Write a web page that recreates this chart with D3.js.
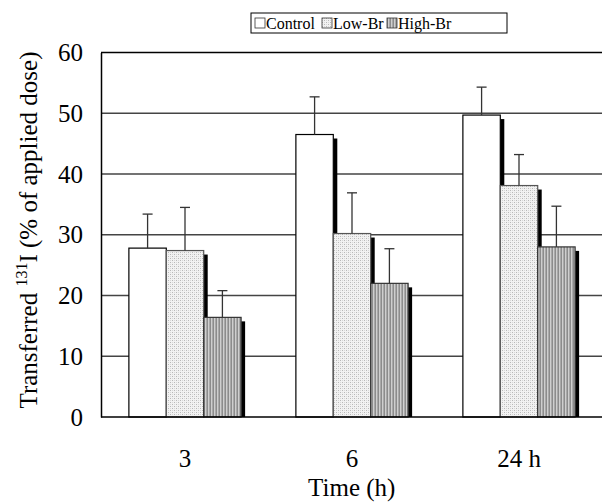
<!DOCTYPE html>
<html>
<head>
<meta charset="utf-8">
<script src="https://cdn.jsdelivr.net/npm/d3@7"></script>
<style>
  body { margin: 0; background: #fff; }
  text { font-family: "Liberation Serif", "Times New Roman", serif; fill: #000; }
</style>
</head>
<body>
<svg width="602" height="502"></svg>
<script>
// Data
var groups = ["3", "6", "24 h"];
var series = ["Control", "Low-Br", "High-Br"];
var control = [27.8, 46.5, 49.7];
var controlErr = [5.6, 6.2, 4.6];
var lowBr = [27.4, 30.2, 38.1];
var lowBrErr = [7.1, 6.7, 5.1];
var highBr = [16.4, 22.0, 28.0];
var highBrErr = [4.4, 5.7, 6.7];
var yTicks = [0, 10, 20, 30, 40, 50, 60];

var values = [control, lowBr, highBr];
var errors = [controlErr, lowBrErr, highBrErr];
var fills = ["#fff", "url(#dots)", "url(#stripes)"];
var strokes = ["#000", "#555", "#333"];

var svg = d3.select("svg");
var plotLeft = 101, plotRight = 602.5, plotTop = 52.5, plotBottom = 417;

// patterns for the Low-Br and High-Br bars
var defs = svg.append("defs");
var dots = defs.append("pattern").attr("id", "dots")
    .attr("patternUnits", "userSpaceOnUse").attr("width", 4).attr("height", 4);
dots.append("rect").attr("width", 4).attr("height", 4).attr("fill", "#f2f2f2");
dots.append("rect").attr("x", 0).attr("y", 0).attr("width", 1).attr("height", 1).attr("fill", "#b8b8b8");
dots.append("rect").attr("x", 2).attr("y", 2).attr("width", 1).attr("height", 1).attr("fill", "#b8b8b8");
dots.append("rect").attr("x", 0).attr("y", 2).attr("width", 1).attr("height", 1).attr("fill", "#d8d8d8");
dots.append("rect").attr("x", 2).attr("y", 0).attr("width", 1).attr("height", 1).attr("fill", "#d8d8d8");

var stripes = defs.append("pattern").attr("id", "stripes")
    .attr("patternUnits", "userSpaceOnUse").attr("width", 3).attr("height", 3);
stripes.append("rect").attr("x", 0).attr("width", 1).attr("height", 3).attr("fill", "#8c8c8c");
stripes.append("rect").attr("x", 1).attr("width", 1).attr("height", 3).attr("fill", "#cfcfcf");
stripes.append("rect").attr("x", 2).attr("width", 1).attr("height", 3).attr("fill", "#a9a9a9");

// Scales
var x0 = d3.scaleBand().domain(groups).range([plotLeft + 0.5, plotRight]).paddingInner(0.328).paddingOuter(0.164);
var x1 = d3.scaleBand().domain(series).range([0, x0.bandwidth()]);
var y = d3.scaleLinear().domain([0, 60]).range([plotBottom, plotTop]);

// Grid lines
svg.append("g").selectAll("line").data(yTicks.filter(function (d) { return d > 0 && d < 60; }))
    .enter().append("line")
    .attr("x1", plotLeft).attr("x2", plotRight)
    .attr("y1", function (d) { return y(d); }).attr("y2", function (d) { return y(d); })
    .attr("stroke", "#444").attr("stroke-width", 1.3);

// top border
svg.append("line").attr("x1", plotLeft).attr("x2", plotRight).attr("y1", y(60)).attr("y2", y(60))
    .attr("stroke", "#000").attr("stroke-width", 1.3);

// Bars: shadow then bar, series by series so the next bar covers the shadow
var bars = svg.append("g");
groups.forEach(function (g, gi) {
    series.forEach(function (s, si) {
        var v = values[si][gi];
        var bx = x0(g) + x1(s);
        var w = x1.bandwidth();
        bars.append("rect")
            .attr("x", bx + w).attr("y", y(v) + 4)
            .attr("width", 4).attr("height", plotBottom - y(v) - 4)
            .attr("fill", "#000");
        bars.append("rect")
            .attr("x", bx).attr("y", y(v))
            .attr("width", w).attr("height", plotBottom - y(v))
            .attr("fill", fills[si]).attr("stroke", strokes[si]).attr("stroke-width", 1.2);
    });
});

// Error bars (upper only)
var err = svg.append("g").attr("stroke", "#333").attr("stroke-width", 1.3);
groups.forEach(function (g, gi) {
    series.forEach(function (s, si) {
        var v = values[si][gi], e = errors[si][gi];
        var cx = x0(g) + x1(s) + x1.bandwidth() / 2;
        err.append("line").attr("x1", cx).attr("x2", cx).attr("y1", y(v)).attr("y2", y(v + e));
        err.append("line").attr("x1", cx - 5).attr("x2", cx + 5).attr("y1", y(v + e)).attr("y2", y(v + e));
    });
});

// Axes
var yAxis = svg.append("g").attr("transform", "translate(" + plotLeft + ",0)")
    .call(d3.axisLeft(y).tickValues(yTicks).tickSize(0).tickPadding(18))
    .attr("font-family", "Liberation Serif").attr("font-size", 25);
yAxis.select(".domain").attr("stroke", "#000").attr("stroke-width", 1.5);

var xAxis = svg.append("g").attr("transform", "translate(0," + plotBottom + ")")
    .call(d3.axisBottom(x0).tickSize(0).tickPadding(32))
    .attr("font-family", "Liberation Serif").attr("font-size", 25);
xAxis.select(".domain").attr("d", "M" + plotLeft + ",0H" + plotRight).attr("stroke", "#000").attr("stroke-width", 1.5);

// Axis titles
svg.append("text").attr("x", (plotLeft + plotRight) / 2).attr("y", 496)
    .attr("text-anchor", "middle").style("font-size", "25px").text("Time (h)");

var yl = svg.append("text").attr("transform", "translate(37,230) rotate(-90)")
    .attr("text-anchor", "middle").style("font-size", "25px");
yl.append("tspan").text("Transferred ");
yl.append("tspan").attr("dy", -10).style("font-size", "16px").text("131");
yl.append("tspan").attr("dy", 10).text("I (% of applied dose)");

// Legend
var lg = svg.append("g");
lg.append("rect").attr("x", 251).attr("y", 13).attr("width", 256).attr("height", 20)
    .attr("fill", "#fff").attr("stroke", "#000").attr("stroke-width", 1);
var legX = [255, 322, 387];
series.forEach(function (s, si) {
    lg.append("rect").attr("x", legX[si]).attr("y", 18).attr("width", 10).attr("height", 10)
        .attr("fill", fills[si]).attr("stroke", "#333").attr("stroke-width", 0.8);
    lg.append("text").attr("x", legX[si] + 11).attr("y", 29)
        .style("font-size", "16px").text(s);
});
</script>
</body>
</html>
